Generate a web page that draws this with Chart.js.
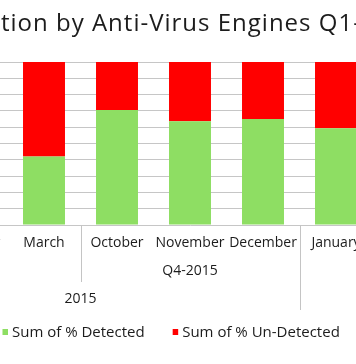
<!DOCTYPE html>
<html>
<head>
<meta charset="utf-8">
<script src="https://cdn.jsdelivr.net/npm/chart.js@4/dist/chart.umd.min.js"></script>
<style>
  html, body { margin: 0; padding: 0; background: #fff; overflow: hidden; width: 356px; height: 364px; }
  #wrap { position: absolute; left: -150px; top: 0; width: 680px; height: 364px; }
</style>
</head>
<body>
<div id="wrap"><canvas id="c" width="680" height="364"></canvas></div>
<script>
// ---- data ----
const titleText = 'Detection by Anti-Virus Engines Q1-2016';
const categories = ['January', 'February', 'March', 'October', 'November', 'December', 'January', 'February', 'March'];
const detected   = [null, null, 42.0, 70.5, 63.7, 65.1, 59.4, null, null];
const undetected = [null, null, 58.0, 29.5, 36.3, 34.9, 40.6, null, null];
const quarterLabels = ['Q1-2015', 'Q4-2015', 'Q1-2016'];
const quarterSpans  = [[0, 2], [3, 5], [6, 8]];
const yearLabels = ['2015', '2016'];
const yearSpans  = [[0, 5], [6, 8]];
const seriesNames = ['Sum of % Detected', 'Sum of % Un-Detected'];
const seriesColors = ['#8ede63', '#ff0000'];

const OFFSET_X = 150; // canvas is shifted left by this many px
const FONT = '"Open Sans", "Noto Sans", sans-serif';
const TEXT = '#1c1c1c';

const groupPlugin = {
  id: 'groups',
  afterDraw(chart) {
    const ctx = chart.ctx;
    const xs = chart.scales.x;
    const ca = chart.chartArea;
    ctx.save();
    // title
    ctx.fillStyle = TEXT;
    ctx.font = '24px ' + FONT;
    if ('letterSpacing' in ctx) ctx.letterSpacing = '1px';
    ctx.textAlign = 'left';
    ctx.textBaseline = 'alphabetic';
    const pre = ctx.measureText('Detec').width;
    ctx.fillText(titleText, OFFSET_X + 1 - pre, 31);
    if ('letterSpacing' in ctx) ctx.letterSpacing = '0px';

    // group separators
    ctx.strokeStyle = '#c4c4c4';
    ctx.lineWidth = 1;
    const yearEnds = yearSpans.map(s => s[1]);
    quarterSpans.forEach(s => {
      if (s[1] + 1 >= categories.length) return;
      const bx = Math.round((xs.getPixelForValue(s[1]) + xs.getPixelForValue(s[1] + 1)) / 2) + 0.5;
      const yEnd = yearEnds.includes(s[1]) ? 310 : 282;
      ctx.beginPath();
      ctx.moveTo(bx, ca.bottom);
      ctx.lineTo(bx, yEnd);
      ctx.stroke();
    });

    ctx.fillStyle = TEXT;
    ctx.font = '14px ' + FONT;
    ctx.textAlign = 'center';
    ctx.textBaseline = 'middle';
    quarterSpans.forEach((s, i) => {
      const cx = (xs.getPixelForValue(s[0]) + xs.getPixelForValue(s[1])) / 2;
      ctx.fillText(quarterLabels[i], cx, 271);
    });
    yearSpans.forEach((s, i) => {
      const cx = (xs.getPixelForValue(s[0]) + xs.getPixelForValue(s[1])) / 2;
      ctx.fillText(yearLabels[i], cx, 299);
    });

    // legend
    ctx.font = '15px ' + FONT;
    let x = OFFSET_X + 2.5;
    ctx.textAlign = 'left';
    chart.data.datasets.forEach(ds => {
      ctx.fillStyle = ds.backgroundColor;
      ctx.fillRect(x, 329, 5.5, 6);
      x += 9.5;
      ctx.fillStyle = TEXT;
      ctx.fillText(ds.label, x, 333);
      x += ctx.measureText(ds.label).width + 28;
    });
    ctx.restore();
  }
};

new Chart(document.getElementById('c'), {
  type: 'bar',
  data: {
    labels: categories,
    datasets: [
      { label: seriesNames[0], data: detected, backgroundColor: seriesColors[0], barPercentage: 0.575, categoryPercentage: 1 },
      { label: seriesNames[1], data: undetected, backgroundColor: seriesColors[1], barPercentage: 0.575, categoryPercentage: 1 }
    ]
  },
  options: {
    responsive: false,
    animation: false,
    devicePixelRatio: 1,
    layout: { padding: { left: 11.5, right: 11.5, top: 62, bottom: 0 } },
    plugins: { legend: { display: false }, title: { display: false }, tooltip: { enabled: false } },
    scales: {
      x: {
        stacked: true,
        grid: { display: false, drawTicks: false },
        border: { display: false },
        ticks: { color: TEXT, font: { family: FONT, size: 14 }, padding: 10, maxRotation: 0, autoSkip: false },
        afterFit: s => { s.height = 139; }
      },
      y: {
        stacked: true,
        min: 0, max: 100,
        ticks: { display: false, stepSize: 10 },
        grid: { color: '#c6c6c6', lineWidth: 1, drawTicks: false },
        border: { display: false },
        afterFit: s => { s.width = 0; }
      }
    }
  },
  plugins: [groupPlugin]
});
</script>
</body>
</html>
